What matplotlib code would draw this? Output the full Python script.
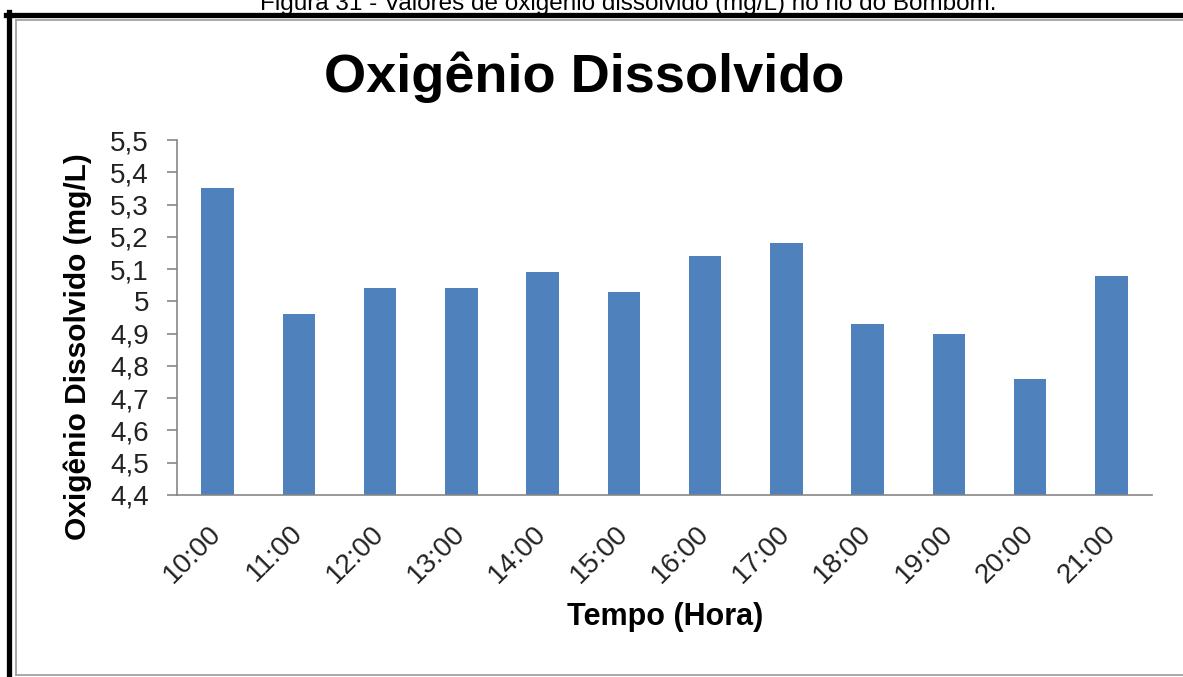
import matplotlib
matplotlib.use("Agg")
import matplotlib.pyplot as plt
from matplotlib.lines import Line2D

plt.rcParams["font.family"] = ["Liberation Sans", "DejaVu Sans"]

# Dissolved oxygen readings along the day
horas = ["10:00", "11:00", "12:00", "13:00", "14:00", "15:00",
         "16:00", "17:00", "18:00", "19:00", "20:00", "21:00"]
oxigenio = [5.35, 4.96, 5.04, 5.04, 5.09, 5.03,
            5.14, 5.18, 4.93, 4.90, 4.76, 5.08]

y_ticks = [4.4, 4.5, 4.6, 4.7, 4.8, 4.9, 5.0, 5.1, 5.2, 5.3, 5.4, 5.5]
y_tick_labels = ["4,4", "4,5", "4,6", "4,7", "4,8", "4,9", "5",
                 "5,1", "5,2", "5,3", "5,4", "5,5"]

titulo = "Oxigênio Dissolvido"
rotulo_y = "Oxigênio Dissolvido (mg/L)"
rotulo_x = "Tempo (Hora)"
legenda_figura = "Figura 31 - Valores de oxigênio dissolvido (mg/L) no rio do Bombom."

W, H = 1183, 677
fig = plt.figure(figsize=(W / 100, H / 100), dpi=100)
fig.patch.set_facecolor("white")


def fx(px):
    return px / W


def fy(py):
    return 1 - py / H


ax = fig.add_axes([fx(177), fy(495), fx(1152) - fx(177), fy(140) - fy(495)])

x = list(range(len(horas)))
ax.bar(x, oxigenio, width=0.4, color="#4F81BD", zorder=2)
ax.set_xlim(-0.5, len(horas) - 0.5)
ax.set_ylim(y_ticks[0], y_ticks[-1])

ax.set_yticks(y_ticks)
ax.set_yticklabels(y_tick_labels)
ax.set_xticks(x)
ax.set_xticklabels(horas, rotation=45, ha="right", va="center",
                   rotation_mode="anchor")

axis_gray = "#868686"
for side in ("top", "right"):
    ax.spines[side].set_visible(False)
for side in ("left", "bottom"):
    ax.spines[side].set_color(axis_gray)
    ax.spines[side].set_linewidth(1.2)

ax.tick_params(axis="y", direction="out", length=7.2, width=1.2,
               color=axis_gray, labelsize=20, labelcolor="#222222", pad=13)
ax.tick_params(axis="x", length=0, labelsize=20, labelcolor="#222222",
               pad=25)

# Chart title and axis titles
fig.text(fx(584), fy(92), titulo, ha="center", va="baseline",
         fontsize=39, fontweight="bold", color="black")
fig.text(fx(78), fy(347), rotulo_y, ha="center", va="center",
         rotation=90, fontsize=21.5, fontweight="bold", color="black")
fig.text(fx(665), fy(617), rotulo_x, ha="center", va="center",
         fontsize=22, fontweight="bold", color="black")

# Caption above the framed chart
fig.text(fx(628), fy(10), legenda_figura, ha="center", va="baseline",
         fontsize=17.5, color="black")

# Frame around the chart
fig.add_artist(Line2D([fx(6), 1], [fy(14.5), fy(14.5)],
                      transform=fig.transFigure, color="black", lw=3.8))
fig.add_artist(Line2D([fx(9), fx(9)], [fy(12), 0],
                      transform=fig.transFigure, color="black", lw=3.8))
fig.add_artist(Line2D([fx(16), 1], [fy(19.5), fy(19.5)],
                      transform=fig.transFigure, color="#9a9a9a", lw=1.2))
fig.add_artist(Line2D([fx(16), fx(16)], [fy(19.5), fy(675)],
                      transform=fig.transFigure, color="#9a9a9a", lw=1.2))
fig.add_artist(Line2D([fx(16), 1], [fy(675), fy(675)],
                      transform=fig.transFigure, color="#9a9a9a", lw=1.2))

fig.savefig("out.png", dpi=100)
